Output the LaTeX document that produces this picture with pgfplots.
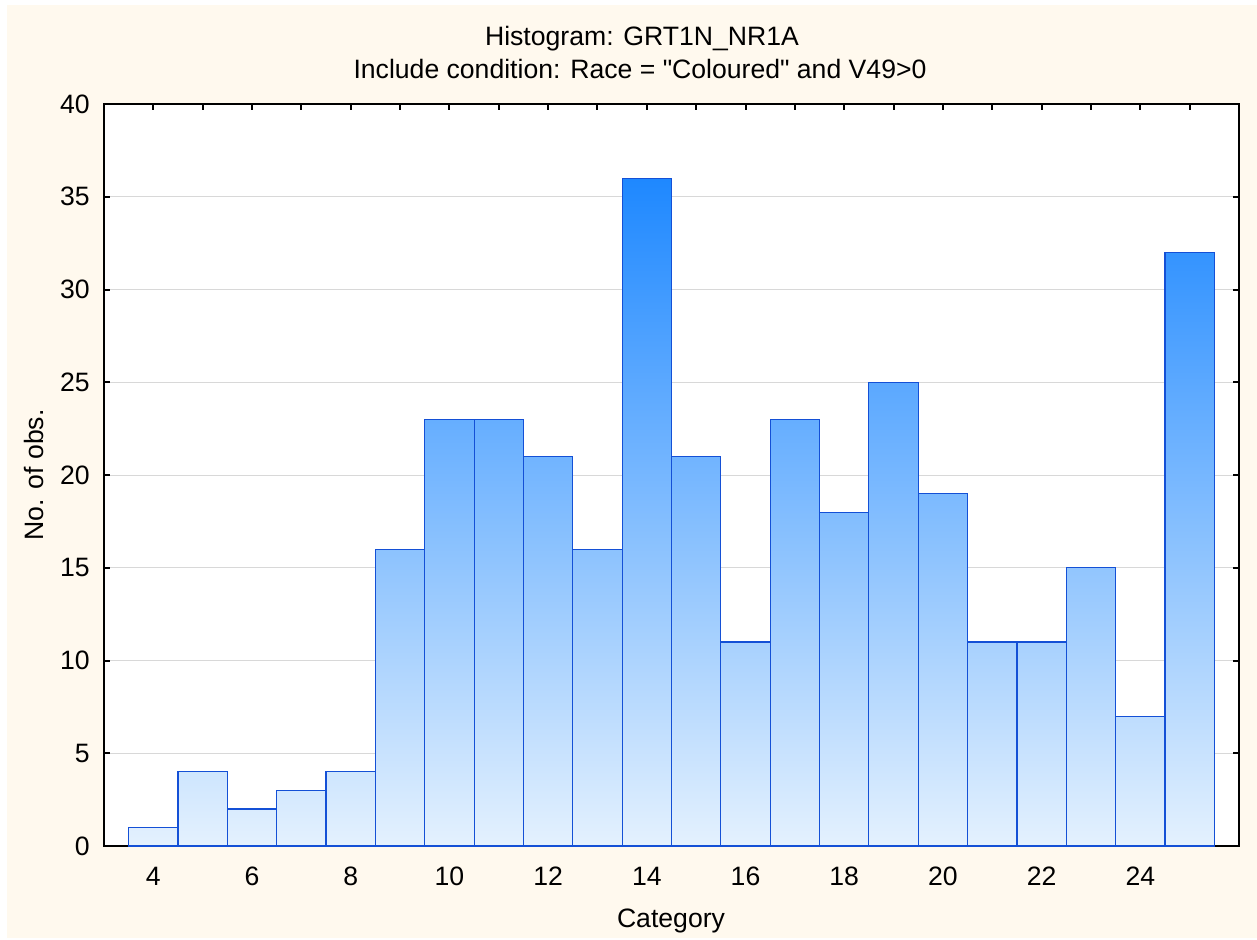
\documentclass[border=0pt]{standalone}
\usepackage{fontspec}
\setmainfont{Liberation Sans}[Ligatures=TeXOff]
\usepackage{pgfplots}
\pgfplotsset{compat=1.18}
\definecolor{cream}{HTML}{FFF9EE}
\definecolor{barlo}{HTML}{E4F1FE}
\definecolor{barhi}{HTML}{1E88FF}
\definecolor{baredge}{HTML}{1450D6}
\definecolor{gridc}{HTML}{D8D8D8}
\newcommand{\chfont}{\fontsize{13.3}{15.5}\selectfont}
\begin{document}
\begin{tikzpicture}
\fill[white] (0,0) rectangle (628.5pt,469pt);
\fill[cream] (3.5pt,0) rectangle (628.5pt,466.5pt);
\begin{axis}[
  at={(52pt,46pt)}, anchor=south west,
  scale only axis, width=567.5pt, height=371pt,
  xmin=3, xmax=26, ymin=0, ymax=40,
  axis background/.style={fill=white},
  axis line style={line width=1pt, black},
  every tick/.style={line width=1pt, black},
  tick align=inside,
  major tick length=3pt, minor tick length=3pt,
  xtick={4,6,...,24}, minor xtick={5,7,...,25},
  ytick={0,5,...,40},
  ymajorgrids, grid style={gridc, line width=0.5pt},
  font=\chfont,
  /pgf/number format/assume math mode=true,
  xticklabel style={anchor=north, inner sep=0pt, yshift=-10.5pt},
  yticklabel style={anchor=east, inner sep=0pt, xshift=-7pt},
]
\addplot[draw=none, bottom color=barlo, top color=barhi, const plot mark left] table {
x y
3.5 1
4.5 4
5.5 2
6.5 3
7.5 4
8.5 16
9.5 23
10.5 23
11.5 21
12.5 16
13.5 36
14.5 21
15.5 11
16.5 23
17.5 18
18.5 25
19.5 19
20.5 11
21.5 11
22.5 15
23.5 7
24.5 32
25.5 32
} \closedcycle;
\addplot[ybar interval, fill=none, draw=baredge, line width=0.6pt] table {
x y
3.5 1
4.5 4
5.5 2
6.5 3
7.5 4
8.5 16
9.5 23
10.5 23
11.5 21
12.5 16
13.5 36
14.5 21
15.5 11
16.5 23
17.5 18
18.5 25
19.5 19
20.5 11
21.5 11
22.5 15
23.5 7
24.5 32
25.5 32
};
\end{axis}
\node[anchor=base, font=\chfont] at (321pt,446pt) {Histogram: GRT1N\_NR1A};
\node[anchor=base, font=\chfont] at (320pt,429.5pt) {Include condition: Race = "Coloured" and V49>0};
\node[anchor=base, font=\chfont] at (335.5pt,5.5pt) {Category};
\node[anchor=base, rotate=90, font=\chfont] at (21.5pt,231.5pt) {No. of obs.};
\end{tikzpicture}
\end{document}
